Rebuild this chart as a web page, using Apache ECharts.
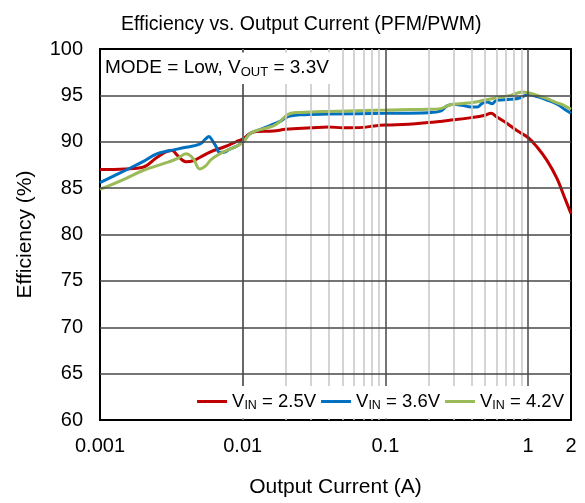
<!DOCTYPE html>
<html>
<head>
<meta charset="utf-8">
<script src="https://cdn.jsdelivr.net/npm/echarts@6/dist/echarts.min.js"></script>
<style>
  html, body { margin: 0; padding: 0; background: #fff; }
  #chart { width: 585px; height: 503px; }
</style>
</head>
<body>
<div id="chart"></div>
<script>
// Efficiency vs output current, three input voltages (MODE = Low, VOUT = 3.3 V)
const current25 = [0.001, 0.0015, 0.002, 0.0025, 0.003, 0.0032, 0.0035, 0.004, 0.0045, 0.005, 0.006, 0.007, 0.008, 0.009, 0.01, 0.0113, 0.0125, 0.0164, 0.02, 0.03, 0.04, 0.05, 0.07, 0.083, 0.1, 0.12, 0.2, 0.3, 0.4, 0.5, 0.55, 0.6, 0.71, 0.84, 1.0, 1.16, 1.36, 1.6, 1.78, 2.0];
const eff25 = [87.0, 87.07, 87.25, 88.3, 89.0, 89.05, 88.5, 87.85, 87.95, 88.3, 88.93, 89.3, 89.64, 90.0, 90.3, 90.9, 91.1, 91.16, 91.34, 91.5, 91.6, 91.5, 91.55, 91.7, 91.8, 91.82, 92.07, 92.36, 92.6, 92.86, 93.07, 92.7, 92.0, 91.18, 90.46, 89.4, 87.96, 86.0, 84.2, 82.25];

const current36 = [0.001, 0.0015, 0.002, 0.0025, 0.003, 0.004, 0.005, 0.0055, 0.0058, 0.006, 0.0065, 0.0069, 0.0075, 0.008, 0.009, 0.01, 0.0113, 0.0132, 0.0164, 0.0183, 0.02, 0.0215, 0.0252, 0.04, 0.1, 0.2, 0.243, 0.271, 0.3, 0.345, 0.4, 0.44, 0.477, 0.517, 0.56, 0.6, 0.754, 0.886, 1.0, 1.16, 1.36, 1.6, 1.78, 2.0];
const eff36 = [85.6, 86.9, 87.86, 88.7, 89.0, 89.4, 89.75, 90.3, 90.57, 90.35, 89.5, 88.85, 88.9, 89.15, 89.5, 89.95, 90.9, 91.3, 91.9, 92.2, 92.6, 92.77, 92.9, 92.98, 93.07, 93.14, 93.3, 93.86, 94.04, 93.93, 93.75, 93.75, 94.14, 94.29, 94.1, 94.46, 94.57, 94.75, 95.1, 94.86, 94.5, 94.04, 93.57, 93.07];

const current42 = [0.001, 0.0015, 0.002, 0.003, 0.0035, 0.004, 0.0045, 0.005, 0.0055, 0.006, 0.007, 0.008, 0.009, 0.01, 0.0113, 0.0132, 0.0164, 0.0183, 0.02, 0.0215, 0.0252, 0.04, 0.1, 0.127, 0.2, 0.243, 0.271, 0.3, 0.36, 0.43, 0.5, 0.6, 0.754, 0.91, 1.0, 1.16, 1.36, 1.6, 1.78, 2.0];
const eff42 = [84.86, 86.0, 86.9, 87.8, 88.2, 88.7, 88.2, 87.07, 87.4, 88.07, 88.75, 89.15, 89.5, 89.9, 90.9, 91.3, 91.7, 92.2, 92.77, 93.05, 93.16, 93.27, 93.41, 93.45, 93.5, 93.57, 93.86, 94.04, 94.14, 94.29, 94.5, 94.75, 95.0, 95.36, 95.29, 95.0, 94.64, 94.2, 93.93, 93.5];

const seriesNames = ['VIN = 2.5V', 'VIN = 3.6V', 'VIN = 4.2V'];
const seriesColors = ['#C00000', '#0070C0', '#9BBB59'];

// grid lines
const xMajor = [0.01, 0.1, 1];
const xMinor = [0.002, 0.003, 0.004, 0.005, 0.006, 0.007, 0.008, 0.009,
                0.02, 0.03, 0.04, 0.05, 0.06, 0.07, 0.08, 0.09,
                0.2, 0.3, 0.4, 0.5, 0.6, 0.7, 0.8, 0.9];
const yMajor = [65, 70, 75, 80, 85, 90, 95];

const FONT = 'Liberation Sans, Arial, sans-serif';

const zip = (xs, ys) => xs.map((x, i) => [x, ys[i]]);
const curves = [zip(current25, eff25), zip(current36, eff36), zip(current42, eff42)];

const chart = echarts.init(document.getElementById('chart'), null, { renderer: 'canvas' });

const subRich = {
  v: { fontSize: 19, fontFamily: FONT, fontWeight: 'normal', color: '#000' },
  s: { fontSize: 13, fontFamily: FONT, fontWeight: 'normal', color: '#000', padding: [9, 0, 0, 0] }
};
const legendRich = {
  v: { fontSize: 18.5, fontFamily: FONT, fontWeight: 'normal', color: '#000' },
  s: { fontSize: 12.5, fontFamily: FONT, fontWeight: 'normal', color: '#000', padding: [9, 0, 0, 0] }
};

chart.setOption({
  animation: false,
  backgroundColor: '#fff',
  title: [
    {
      text: 'Efficiency vs. Output Current (PFM/PWM)',
      left: 121, top: 15, padding: 0,
      textStyle: { fontFamily: FONT, fontSize: 19.5, fontWeight: 'normal', color: '#000' }
    },
    {
      text: '{v|MODE = Low, V}{s|OUT}{v| = 3.3V}',
      left: 102, top: 51,
      padding: [6, 8, 5, 3],
      backgroundColor: '#fff',
      z: 10,
      textStyle: { fontWeight: 'normal', rich: subRich }
    }
  ],
  legend: {
    data: seriesNames,
    right: 16, top: 386,
    padding: [6, 5, 6, 6],
    itemWidth: 30, itemHeight: 3, itemGap: 5,
    icon: 'rect',
    backgroundColor: '#fff',
    z: 10,
    formatter: name => '{v|V}{s|IN}{v|' + name.slice(3) + '}',
    textStyle: { rich: legendRich }
  },
  grid: {
    left: 100, right: 14, top: 49, bottom: 80,
    show: true, borderColor: '#000', borderWidth: 2, backgroundColor: '#fff'
  },
  xAxis: {
    type: 'log', logBase: 10, min: 0.001, max: 2,
    name: 'Output Current (A)', nameLocation: 'middle', nameGap: 57,
    nameTextStyle: { fontFamily: FONT, fontSize: 21, color: '#000' },
    axisLine: { show: true, onZero: false, lineStyle: { color: '#000', width: 2 } },
    axisTick: { show: false },
    splitLine: { show: false },
    axisLabel: {
      fontFamily: FONT, fontSize: 20, color: '#000', margin: 16,
      formatter: v => String(Number(Number(v).toPrecision(4)))
    }
  },
  yAxis: {
    type: 'value', min: 60, max: 100, interval: 5,
    name: 'Efficiency (%)', nameLocation: 'middle', nameGap: 64, nameRotate: 90,
    nameTextStyle: { fontFamily: FONT, fontSize: 21, color: '#000' },
    axisLine: { show: true, lineStyle: { color: '#000', width: 2 } },
    axisTick: { show: false },
    splitLine: { show: false },
    axisLabel: { fontFamily: FONT, fontSize: 20, color: '#000', margin: 17 }
  },
  series: [
    {
      name: 'grid-lines', type: 'line', data: [], silent: true, z: 1,
      markLine: {
        silent: true, symbol: 'none', label: { show: false }, animation: false,
        data: [
          ...xMinor.map(v => ({ xAxis: v, lineStyle: { color: '#cacaca', width: 1.6, type: 'solid' } })),
          ...xMajor.map(v => ({ xAxis: v, lineStyle: { color: '#474747', width: 1.5, type: 'solid' } })),
          ...yMajor.map(v => ({ yAxis: v, lineStyle: { color: '#474747', width: 1.5, type: 'solid' } }))
        ]
      }
    },
    ...curves.map((d, i) => ({
      name: seriesNames[i], type: 'line', data: d, z: 3,
      symbol: 'none', smooth: 0.4,
      lineStyle: { color: seriesColors[i], width: 3 },
      itemStyle: { color: seriesColors[i] }
    }))
  ]
});
</script>
</body>
</html>
